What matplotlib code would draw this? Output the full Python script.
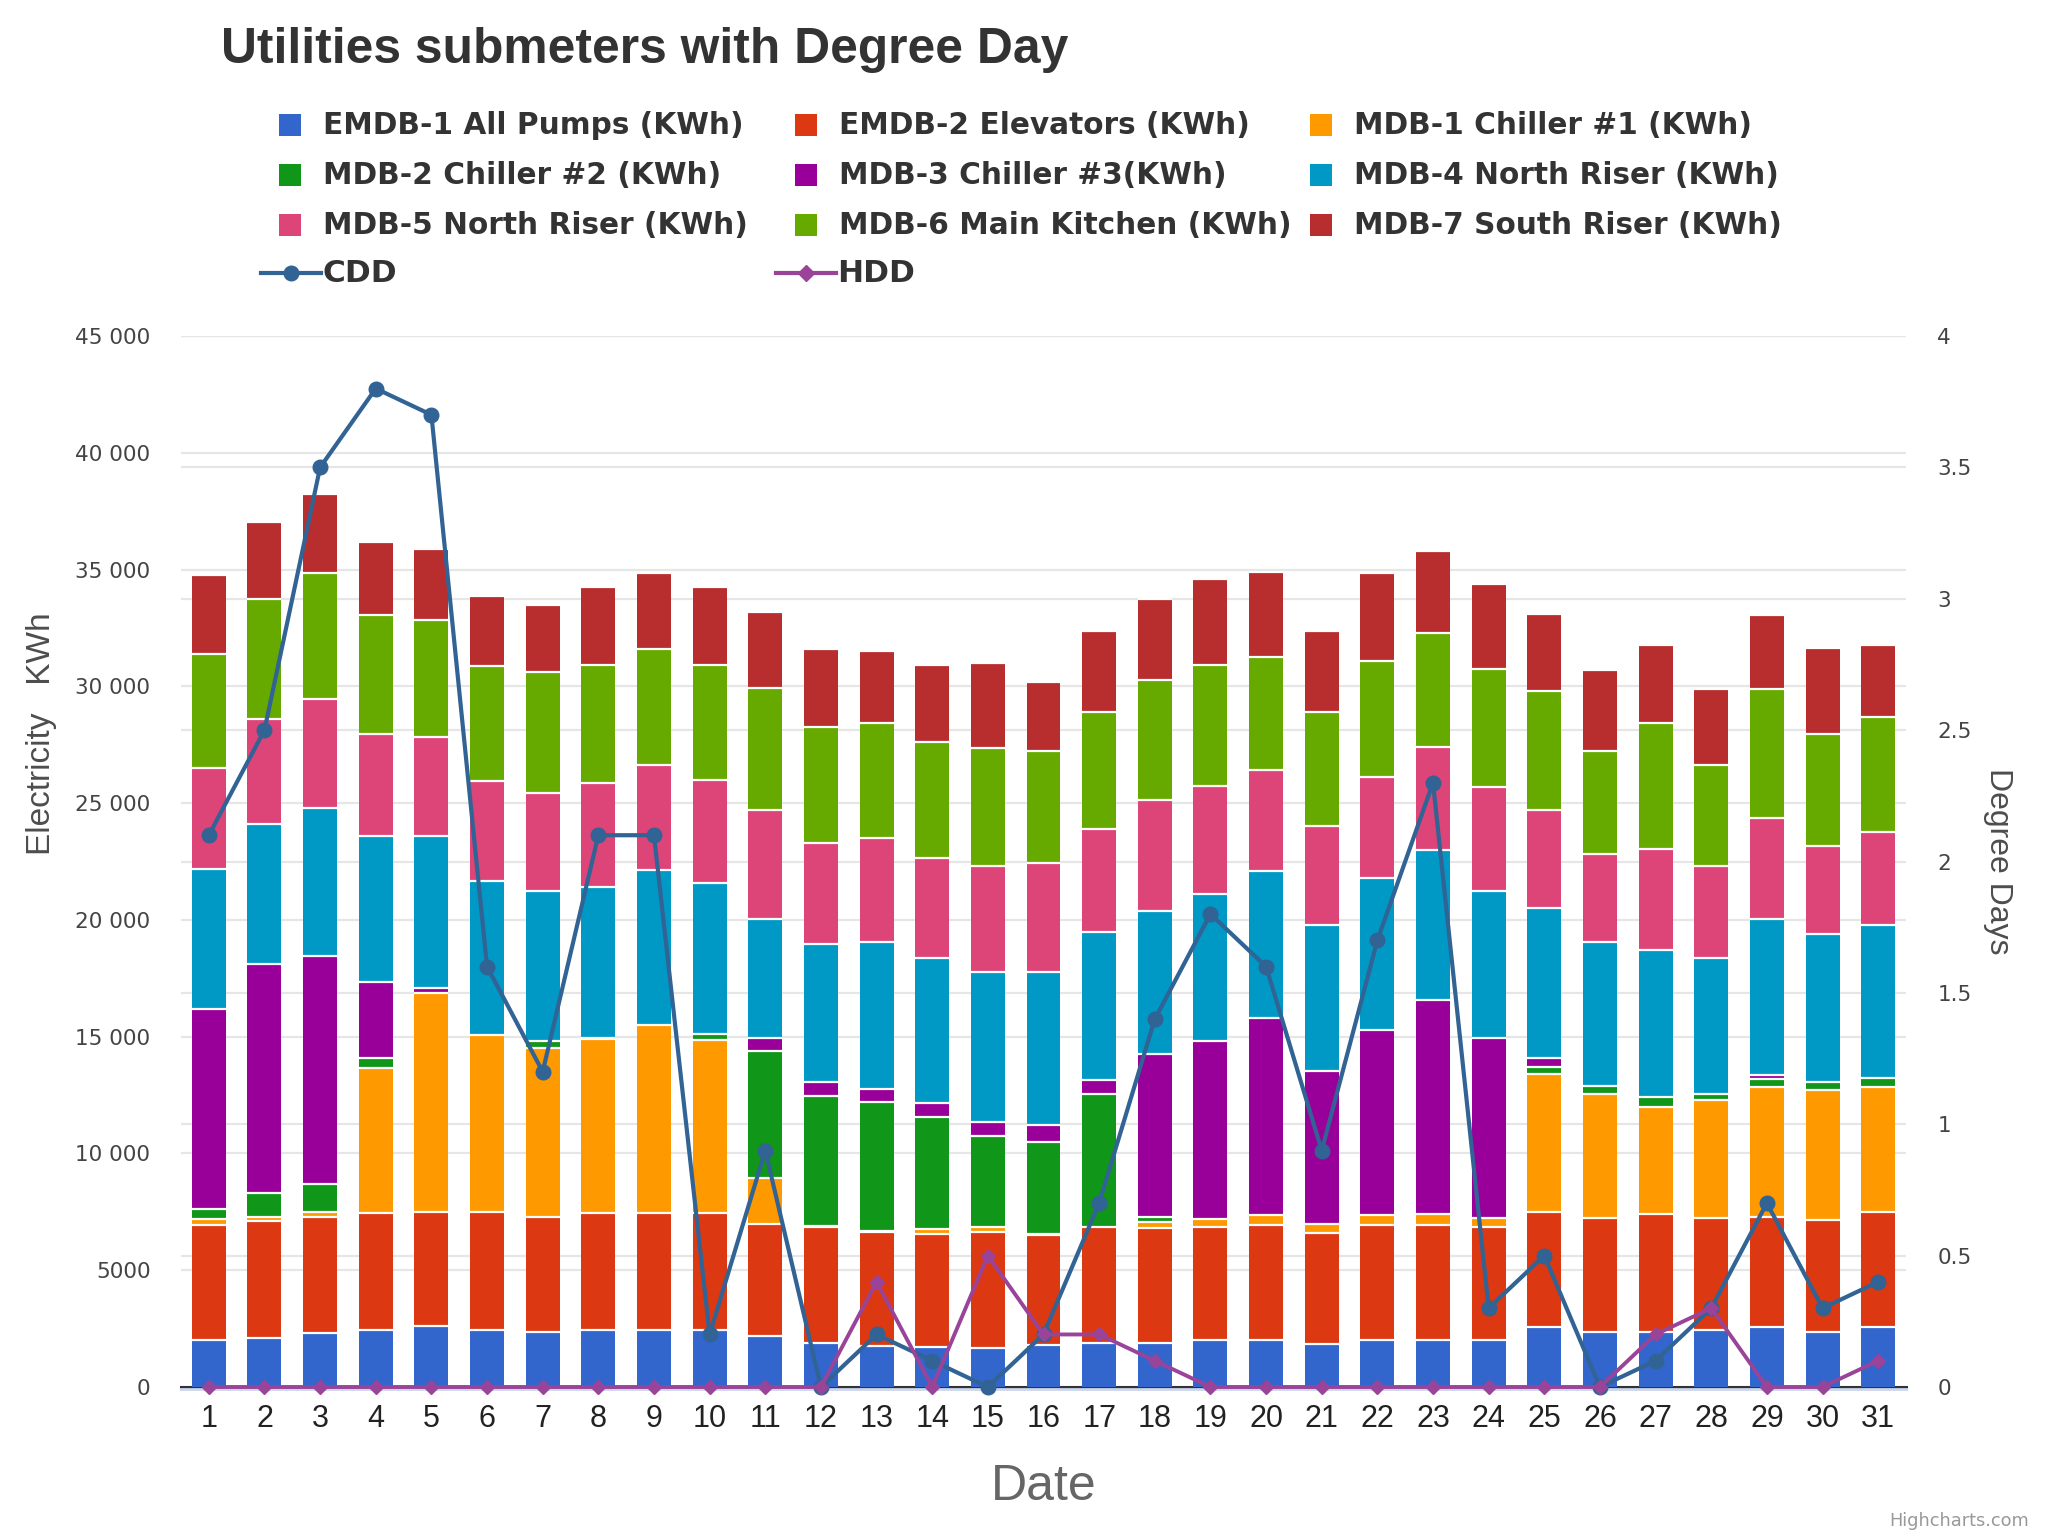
import numpy as np
import matplotlib
matplotlib.use("Agg")
import matplotlib.pyplot as plt
from matplotlib.patches import Rectangle
from matplotlib.lines import Line2D

days = list(range(1, 32))

pumps = [2000, 2100, 2300, 2450, 2600, 2450, 2350, 2450, 2450, 2450, 2200, 1900, 1750, 1700, 1650, 1800,
         1900, 1900, 2000, 2000, 1850, 2000, 2000, 2000, 2550, 2350, 2350, 2450, 2550, 2350, 2550]
elevators = [4950, 5000, 5000, 5000, 4900, 5050, 4950, 5000, 5000, 5000, 4800, 4950, 4900, 4850, 5000, 4700,
             4950, 4900, 4850, 4950, 4750, 4950, 4950, 4850, 4950, 4900, 5050, 4800, 4750, 4800, 4950]
chiller1 = [250, 200, 200, 6200, 9350, 7550, 7200, 7450, 8050, 7400, 1950, 50, 50, 200, 200, 50,
            0, 250, 350, 400, 400, 400, 450, 400, 5900, 5300, 4600, 5050, 5550, 5550, 5350]
chiller2 = [400, 1000, 1200, 450, 0, 0, 300, 0, 0, 250, 5450, 5550, 5500, 4800, 3900, 3950,
            5700, 250, 0, 0, 0, 0, 0, 0, 300, 350, 400, 250, 350, 350, 400]
chiller3 = [8600, 9800, 9750, 3250, 250, 0, 0, 50, 0, 0, 550, 600, 550, 600, 600, 700,
            600, 6950, 7600, 8450, 6550, 7950, 9150, 7700, 400, 0, 0, 0, 150, 0, 0]
riser4 = [6000, 6000, 6350, 6250, 6500, 6600, 6450, 6450, 6650, 6500, 5100, 5900, 6300, 6200, 6400, 6550,
          6350, 6150, 6300, 6300, 6250, 6500, 6450, 6300, 6400, 6150, 6300, 5800, 6700, 6350, 6550]
riser5 = [4300, 4500, 4650, 4350, 4250, 4300, 4200, 4450, 4500, 4400, 4650, 4350, 4450, 4300, 4550, 4700,
          4400, 4750, 4650, 4300, 4200, 4300, 4400, 4450, 4200, 3750, 4350, 3950, 4300, 3750, 3950]
kitchen = [4900, 5150, 5400, 5100, 5000, 4900, 5150, 5050, 4950, 4900, 5250, 4950, 4950, 4950, 5050, 4800,
           5000, 5100, 5150, 4850, 4900, 5000, 4900, 5050, 5100, 4450, 5400, 4350, 5550, 4800, 4950]
south = [3350, 3300, 3400, 3150, 3050, 3000, 2900, 3350, 3250, 3350, 3250, 3350, 3050, 3300, 3650, 2950,
         3450, 3500, 3700, 3650, 3450, 3750, 3500, 3650, 3300, 3450, 3300, 3250, 3150, 3700, 3050]

cdd = [2.1, 2.5, 3.5, 3.8, 3.7, 1.6, 1.2, 2.1, 2.1, 0.2, 0.9, 0, 0.2, 0.1, 0, 0.2,
       0.7, 1.4, 1.8, 1.6, 0.9, 1.7, 2.3, 0.3, 0.5, 0, 0.1, 0.3, 0.7, 0.3, 0.4]
hdd = [0, 0, 0, 0, 0, 0, 0, 0, 0, 0, 0, 0, 0.4, 0, 0.5, 0.2,
       0.2, 0.1, 0, 0, 0, 0, 0, 0, 0, 0, 0.2, 0.3, 0, 0, 0.1]

series = [pumps, elevators, chiller1, chiller2, chiller3, riser4, riser5, kitchen, south]
names = ["EMDB-1 All Pumps (KWh)", "EMDB-2 Elevators (KWh)", "MDB-1 Chiller #1 (KWh)",
         "MDB-2 Chiller #2 (KWh)", "MDB-3 Chiller #3(KWh)", "MDB-4 North Riser (KWh)",
         "MDB-5 North Riser (KWh)", "MDB-6 Main Kitchen (KWh)", "MDB-7 South Riser (KWh)"]
colors = ["#3366cc", "#dc3912", "#ff9900", "#109618", "#990099", "#0099c6", "#dd4477", "#66aa00", "#b82e2e"]
cdd_color = "#316395"
hdd_color = "#994499"

W, H = 2048, 1536
fig = plt.figure(figsize=(W / 100, H / 100), dpi=100)


def fx(x):
    return x / W


def fy(y):
    return 1 - y / H


# plot area in pixels
left, right, top, bottom = 181, 1906, 336, 1387
ax = fig.add_axes([fx(left), fy(bottom), fx(right - left), (bottom - top) / H])
ax2 = ax.twinx()
ax.set_zorder(1)
ax2.set_zorder(2)
ax.patch.set_visible(False)
ax2.patch.set_visible(False)

# has to come before the ticks, moving a spine resets them
for sp in ax.spines.values():
    sp.set_visible(False)
for sp in ax2.spines.values():
    sp.set_visible(False)
ax.spines["bottom"].set_visible(True)
ax.spines["bottom"].set_color("#ccd6eb")
ax.spines["bottom"].set_linewidth(2)
ax.spines["bottom"].set_position(("outward", 1.5))

ax.set_xlim(0.5, 31.5)
ax.set_ylim(0, 45000)
ax2.set_ylim(0, 4)

ax.set_yticks(range(0, 45001, 5000))
ax.set_yticklabels(["0", "5000"] + [f"{v} 000" for v in range(10, 46, 5)],
                   family="DejaVu Sans", fontsize=15.5, color="#444444")
ax2.set_yticks(np.arange(0, 4.01, 0.5))
ax2.set_yticklabels(["0", "0.5", "1", "1.5", "2", "2.5", "3", "3.5", "4"],
                    family="DejaVu Sans", fontsize=15.5, color="#444444")
ax.set_xticks(days)
ax.set_xticklabels(days, family="Liberation Sans", fontsize=22, color="#222222")
ax.tick_params(axis="x", length=0, pad=11)
ax.tick_params(axis="y", length=0, pad=22)
ax2.tick_params(axis="y", length=0, pad=22.5)

ax.set_axisbelow(True)
ax.grid(axis="y", color="#e6e6e6", lw=1.6, zorder=0)
# second set of grid lines, they don't line up with the first
for v in np.arange(0.5, 4.01, 0.5):
    ax.axhline(v / 4 * 45000, color="#e6e6e6", lw=1.6, zorder=0)
ax.axhline(0, color="#333333", lw=2.2, zorder=1, clip_on=False)

bar_w = 0.61
base = np.zeros(31)
for vals, col in zip(series, colors):
    vals = np.array(vals)
    keep = vals > 0
    x = np.array(days)[keep]
    ax.bar(x, vals[keep], bottom=base[keep], width=bar_w, color=col, linewidth=0, zorder=2)
    # white separator on top of each segment only, the bars sit right on the axis
    ax.hlines((base + vals)[keep], x - bar_w / 2, x + bar_w / 2, color="white", lw=1.6, zorder=3)
    base = base + vals

ax2.plot(days, cdd, color=cdd_color, lw=3, marker="o", ms=10.5, clip_on=False, zorder=5)
ax2.plot(days, hdd, color=hdd_color, lw=2.8, marker="D", ms=7.5, clip_on=False, zorder=6)

fig.text(fx(221), fy(50), "Utilities submeters with Degree Day", family="Liberation Sans",
         fontweight="bold", fontsize=35.8, color="#333333", va="center", ha="left")

# legend
col_x = [279, 795, 1310]
row_y = [125, 175, 225]
for i, (name, col) in enumerate(zip(names, colors)):
    x = col_x[i % 3]
    y = row_y[i // 3]
    fig.add_artist(Rectangle((fx(x), fy(y + 11)), 22 / W, 22 / H, transform=fig.transFigure,
                             facecolor=col, edgecolor="none"))
    fig.text(fx(x + 44), fy(y + 1), name, family="DejaVu Sans", fontweight="bold", fontsize=21.3,
             color="#333333", va="center", ha="left")

for x0, name, col, mk, ms in [(260, "CDD", cdd_color, "o", 10.5), (775, "HDD", hdd_color, "D", 8)]:
    fig.add_artist(Line2D([fx(x0 + 1), fx(x0 + 61)], [fy(273), fy(273)], transform=fig.transFigure,
                          color=col, lw=3))
    fig.add_artist(Line2D([fx(x0 + 31)], [fy(273)], transform=fig.transFigure,
                          color=col, marker=mk, ms=ms))
    fig.text(fx(x0 + 62), fy(274), name, family="DejaVu Sans", fontweight="bold", fontsize=22.5,
             color="#333333", va="center", ha="left")

# axis titles
fig.text(fx(42), fy(734), "Electricity   KWh", family="Liberation Sans", fontsize=24, color="#4d4d4d",
         rotation=90, ha="center", va="center")
fig.text(fx(1998), fy(861), "Degree Days", family="Liberation Sans", fontsize=23, color="#4d4d4d",
         rotation=270, ha="center", va="center")
fig.text(fx(1044), fy(1487), "Date", family="Liberation Sans", fontsize=36, color="#666666",
         ha="center", va="center")
fig.text(fx(2029), fy(1521), "Highcharts.com", family="DejaVu Sans", fontsize=12.8, color="#999999",
         ha="right", va="center")

fig.savefig("out.png", dpi=100)
